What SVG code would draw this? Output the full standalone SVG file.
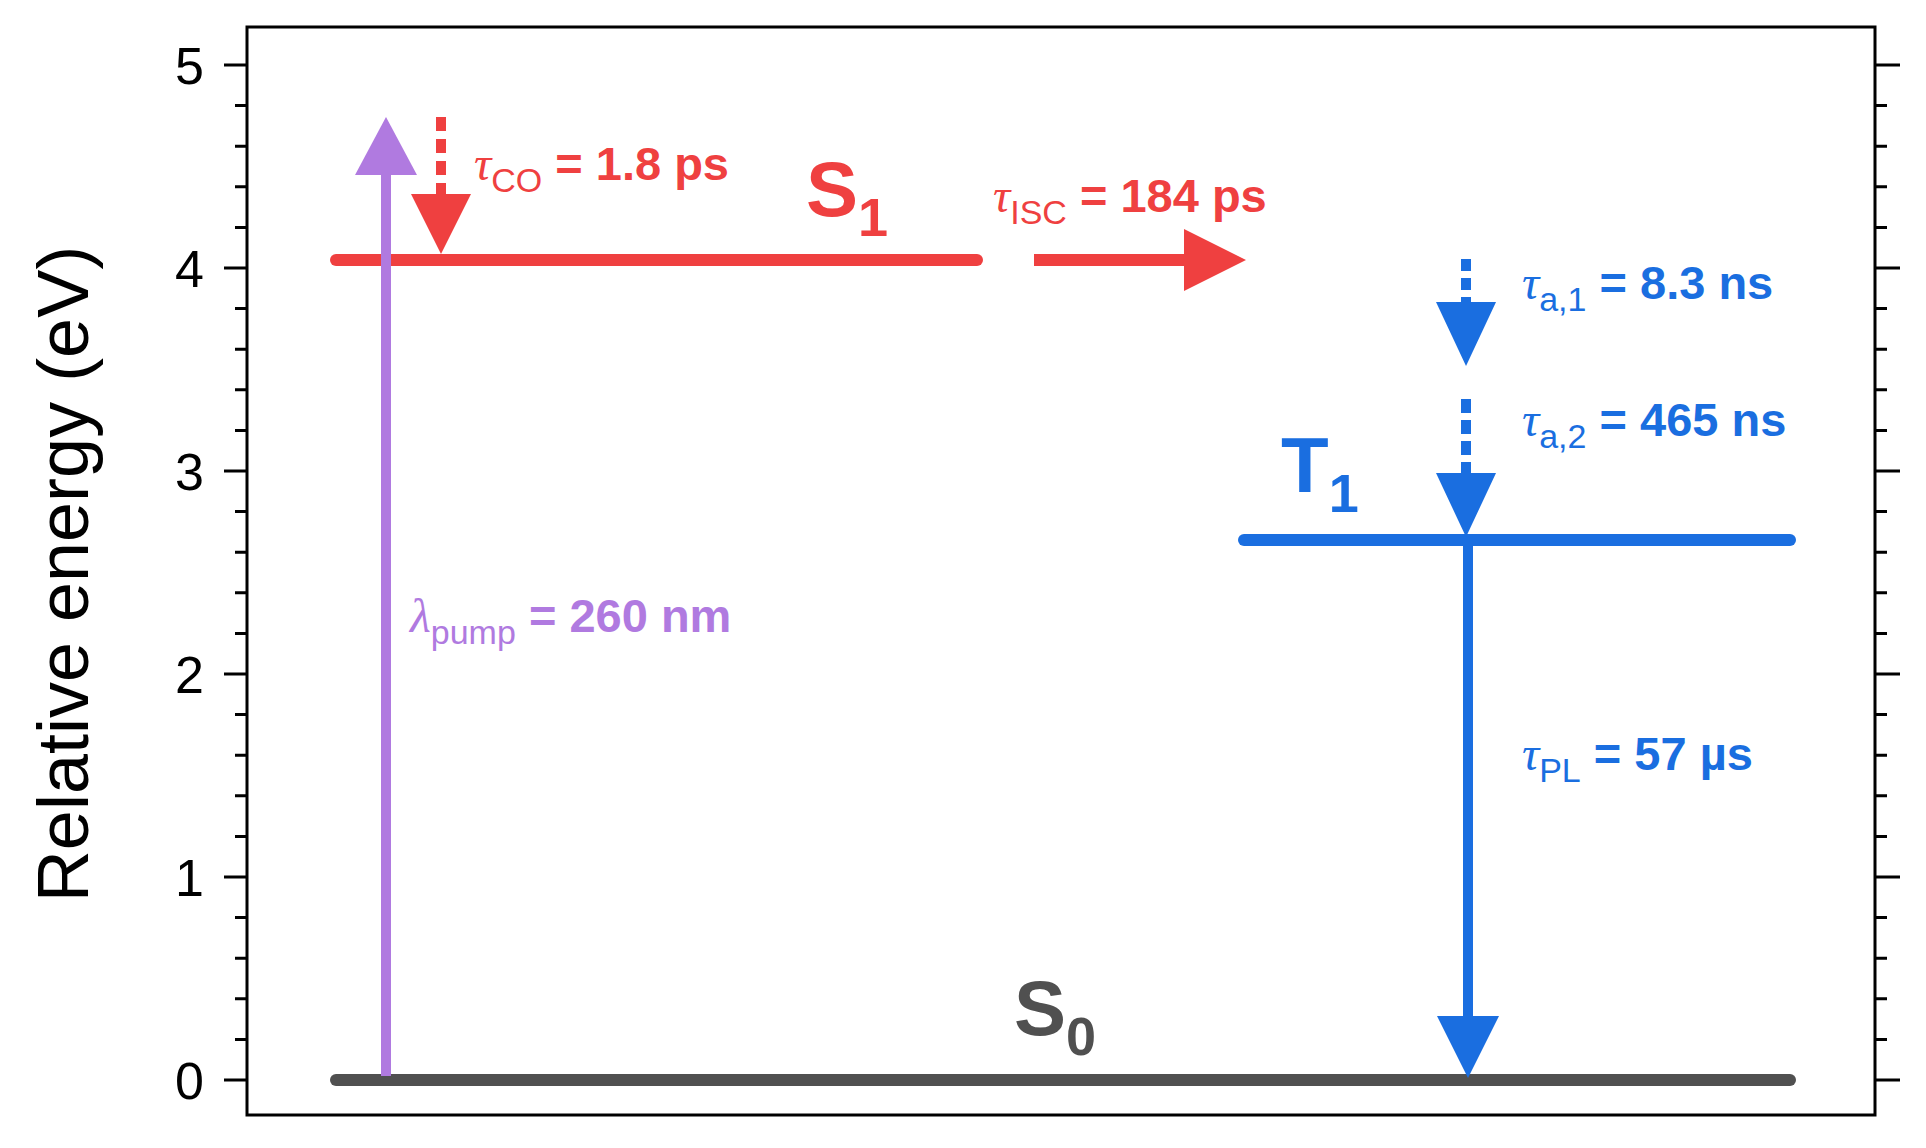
<svg xmlns="http://www.w3.org/2000/svg" width="1926" height="1148" viewBox="0 0 1926 1148">
<style>
.ax{stroke:#000;stroke-width:3;fill:none}
.tk{font-family:"Liberation Sans",Arial,sans-serif;font-size:52px;fill:#000;text-anchor:end}
.lb{font-family:"Liberation Sans",Arial,sans-serif;font-weight:bold;font-size:47px}
.g{font-family:"Liberation Serif",serif;font-style:italic;font-weight:normal}
.sb{font-weight:normal;font-size:34px}
.st{font-family:"Liberation Sans",Arial,sans-serif;font-weight:bold;font-size:78px}
.r{fill:#EF4040}.b{fill:#1A6EE0}.p{fill:#B07AE0}.k{fill:#505050}
</style>
<g id="axes">
<rect class="ax" x="247" y="27" width="1628" height="1088"/>
<path class="ax" d="M224 65H247M224 268H247M224 471H247M224 674H247M224 877H247M224 1080H247M1875 65H1900M1875 268H1900M1875 471H1900M1875 674H1900M1875 877H1900M1875 1080H1900"/>
<path class="ax" d="M235 105.6H247M235 146.2H247M235 186.8H247M235 227.4H247M235 308.6H247M235 349.2H247M235 389.8H247M235 430.4H247M235 511.6H247M235 552.2H247M235 592.8H247M235 633.4H247M235 714.6H247M235 755.2H247M235 795.8H247M235 836.4H247M235 917.6H247M235 958.2H247M235 998.8H247M235 1039.4H247M1875 105.6H1887M1875 146.2H1887M1875 186.8H1887M1875 227.4H1887M1875 308.6H1887M1875 349.2H1887M1875 389.8H1887M1875 430.4H1887M1875 511.6H1887M1875 552.2H1887M1875 592.8H1887M1875 633.4H1887M1875 714.6H1887M1875 755.2H1887M1875 795.8H1887M1875 836.4H1887M1875 917.6H1887M1875 958.2H1887M1875 998.8H1887M1875 1039.4H1887"/>
<text class="tk" x="204" y="84">5</text><text class="tk" x="204" y="287">4</text><text class="tk" x="204" y="490">3</text><text class="tk" x="204" y="693">2</text><text class="tk" x="204" y="896">1</text><text class="tk" x="204" y="1099">0</text>
<text transform="translate(88,574) rotate(-90)" text-anchor="middle" font-family="Liberation Sans,Arial,sans-serif" font-size="72">Relative energy (eV)</text>
</g>
<g id="S0"><line x1="336" y1="1080" x2="1790" y2="1080" stroke="#505050" stroke-width="12" stroke-linecap="round"/><text class="st k" x="1014" y="1035">S<tspan font-size="54" dy="20">0</tspan></text></g>
<g id="S1"><line x1="336" y1="260" x2="977" y2="260" stroke="#EF4040" stroke-width="12" stroke-linecap="round"/><text class="st r" x="806" y="216">S<tspan font-size="54" dy="20">1</tspan></text></g>
<g id="T1"><line x1="1244" y1="540" x2="1790" y2="540" stroke="#1A6EE0" stroke-width="12" stroke-linecap="round"/><text class="st b" x="1281" y="492">T<tspan font-size="54" dy="20">1</tspan></text></g>
<g id="connectors">
<line x1="386" y1="1076" x2="386" y2="170" stroke="#B07AE0" stroke-width="10"/><polygon class="p" points="355,175 417,175 386,117"/>
<line x1="441" y1="117" x2="441" y2="194" stroke="#EF4040" stroke-width="10" stroke-dasharray="14,8"/><polygon class="r" points="411,194 471,194 441,254"/>
<line x1="1034" y1="260" x2="1188" y2="260" stroke="#EF4040" stroke-width="12"/><polygon class="r" points="1184,229 1184,291 1246,260"/>
<line x1="1466" y1="259" x2="1466" y2="303" stroke="#1A6EE0" stroke-width="10" stroke-dasharray="12,7"/><polygon class="b" points="1436,302 1496,302 1466,366"/>
<line x1="1466" y1="399" x2="1466" y2="474" stroke="#1A6EE0" stroke-width="10" stroke-dasharray="14,7"/><polygon class="b" points="1436,473 1496,473 1466,537"/>
<line x1="1468" y1="540" x2="1468" y2="1020" stroke="#1A6EE0" stroke-width="10"/><polygon class="b" points="1437,1016 1499,1016 1468,1078"/>
</g>
<g id="labels">
<text class="lb r" x="474" y="180"><tspan class="g" font-size="48">τ</tspan><tspan class="sb" dy="12">CO</tspan><tspan dy="-12"> = 1.8 ps</tspan></text>
<text class="lb r" x="993" y="212"><tspan class="g" font-size="48">τ</tspan><tspan class="sb" dy="12">ISC</tspan><tspan dy="-12"> = 184 ps</tspan></text>
<text class="lb b" x="1522" y="299"><tspan class="g" font-size="48">τ</tspan><tspan class="sb" dy="12">a,1</tspan><tspan dy="-12"> = 8.3 ns</tspan></text>
<text class="lb b" x="1522" y="436"><tspan class="g" font-size="48">τ</tspan><tspan class="sb" dy="12">a,2</tspan><tspan dy="-12"> = 465 ns</tspan></text>
<text class="lb b" x="1522" y="770"><tspan class="g" font-size="48">τ</tspan><tspan class="sb" dy="12">PL</tspan><tspan dy="-12"> = 57 µs</tspan></text>
<text class="lb p" x="410" y="632"><tspan class="g" font-size="48">λ</tspan><tspan class="sb" dy="12">pump</tspan><tspan dy="-12"> = 260 nm</tspan></text>
</g>
</svg>
